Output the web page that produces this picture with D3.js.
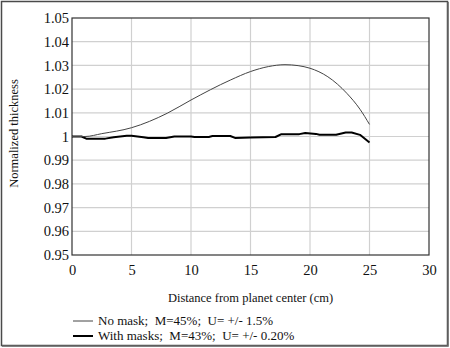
<!DOCTYPE html>
<html>
<head>
<meta charset="utf-8">
<script src="https://cdn.jsdelivr.net/npm/d3@7"></script>
<style>
  html, body { margin: 0; padding: 0; background: #fff; }
  svg { display: block; }
  svg text { fill: #111; white-space: pre; }
</style>
</head>
<body>
<svg id="chart" width="450" height="348"></svg>
<script>
// Radial thickness profiles, normalized to the center value
const distNoMask = [0, 1.1, 2.5, 5, 8, 10, 13.3, 15, 16.5, 17.9, 19, 20, 21.5, 23.1, 24.2, 25];
const thickNoMask = [1.0, 1.0, 1.0012, 1.0037, 1.0098, 1.0154, 1.0238, 1.0274, 1.0295, 1.0303, 1.0299, 1.0288, 1.0252, 1.0182, 1.0115, 1.0051];

const distMask = [0, 0.8, 1.2, 2.8, 3.5, 4.6, 5.0, 6.0, 6.4, 7.9, 8.6, 10, 10.3, 11.5, 11.8, 13.3, 13.7, 15, 17.1, 17.6, 19.1, 19.6, 20.5, 20.8, 22.2, 23.0, 23.5, 24.2, 25];
const thickMask = [1.0, 1.0, 0.9991, 0.9991, 0.9997, 1.0003, 1.0003, 0.9997, 0.9994, 0.9994, 1.0, 1.0, 0.9998, 0.9998, 1.0002, 1.0002, 0.9994, 0.9996, 0.9998, 1.001, 1.001, 1.0015, 1.0011, 1.0007, 1.0007, 1.0017, 1.0017, 1.0007, 0.9975];

const xTicks = [0, 5, 10, 15, 20, 25, 30];
const yTicks = [0.95, 0.96, 0.97, 0.98, 0.99, 1, 1.01, 1.02, 1.03, 1.04, 1.05];
const legendLabels = ["No mask;  M=45%;  U= +/- 1.5%", "With masks;  M=43%;  U= +/- 0.20%"];

const svg = d3.select("#chart");
const W = 450, H = 348;
const plot = { left: 72, top: 18, right: 429, bottom: 255 };
const serif = "Liberation Serif";

// Outer frame
svg.append("rect")
  .attr("x", 1.5).attr("y", 1.5)
  .attr("width", W - 4).attr("height", H - 4)
  .attr("fill", "#fff").attr("stroke", "#4a4a4a").attr("stroke-width", 1.5);
svg.append("path")
  .attr("d", `M${W - 2},2V${H - 2}H2`)
  .attr("fill", "none").attr("stroke", "#666").attr("stroke-width", 1.5);

const x = d3.scaleLinear().domain([0, 30]).range([plot.left, plot.right]);
const y = d3.scaleLinear().domain([0.95, 1.05]).range([plot.bottom, plot.top]);

// Grid
const grid = svg.append("g").attr("stroke", "#d0d0d0").attr("stroke-width", 1.2);
xTicks.slice(1, -1).forEach(t => {
  grid.append("line").attr("x1", x(t)).attr("x2", x(t)).attr("y1", plot.top).attr("y2", plot.bottom);
});
yTicks.slice(1, -1).forEach(t => {
  grid.append("line").attr("x1", plot.left).attr("x2", plot.right).attr("y1", y(t)).attr("y2", y(t));
});

// Plot frame
svg.append("rect")
  .attr("x", plot.left).attr("y", plot.top)
  .attr("width", plot.right - plot.left).attr("height", plot.bottom - plot.top)
  .attr("fill", "none").attr("stroke", "#333").attr("stroke-width", 1.2);

// Axes (labels only)
const xAxis = d3.axisBottom(x).tickValues(xTicks).tickSize(0).tickPadding(10).tickFormat(d3.format("d"));
svg.append("g").attr("transform", `translate(0,${plot.bottom})`).call(xAxis)
  .attr("font-family", serif).attr("font-size", 14.5)
  .call(g => g.select(".domain").remove())
  .call(g => g.selectAll("text").attr("fill", "#111"));

const yAxis = d3.axisLeft(y).tickValues(yTicks).tickSize(0).tickPadding(3).tickFormat(d => d === 1 ? "1" : d3.format(".2f")(d));
svg.append("g").attr("transform", `translate(${plot.left},0)`).call(yAxis)
  .attr("font-family", serif).attr("font-size", 14.5)
  .call(g => g.select(".domain").remove())
  .call(g => g.selectAll("text").attr("fill", "#111"));

// Axis titles
svg.append("text")
  .attr("x", (plot.left + plot.right) / 2).attr("y", 302)
  .attr("text-anchor", "middle").attr("font-size", 12.5)
  .attr("font-family", serif)
  .text("Distance from planet center (cm)");
svg.append("text")
  .attr("transform", `translate(18,${(plot.top + plot.bottom) / 2 - 3}) rotate(-90)`)
  .attr("text-anchor", "middle").attr("font-size", 12.5)
  .attr("font-family", serif)
  .text("Normalized thickness");

// Series
const line = d3.line().curve(d3.curveMonotoneX);
const ptsNoMask = distNoMask.map((d, i) => [x(d), y(thickNoMask[i])]);
const ptsMask = distMask.map((d, i) => [x(d), y(thickMask[i])]);

svg.append("path").attr("d", d3.line()(ptsMask))
  .attr("fill", "none").attr("stroke", "#000").attr("stroke-width", 2).attr("stroke-linejoin", "round");
svg.append("path").attr("d", line(ptsNoMask))
  .attr("fill", "none").attr("stroke", "#444").attr("stroke-width", 1);

// Legend
const legend = svg.append("g").attr("font-family", serif);
const styles = [{ w: 1, c: "#444" }, { w: 2, c: "#000" }];
legendLabels.forEach((lab, i) => {
  const ly = 321 + i * 15;
  legend.append("line").attr("x1", 73).attr("x2", 93).attr("y1", ly).attr("y2", ly)
    .attr("stroke", styles[i].c).attr("stroke-width", styles[i].w);
  legend.append("text").attr("x", 98).attr("y", ly + 4).attr("font-size", 13)
    .attr("xml:space", "preserve").text(lab);
});
</script>
</body>
</html>
